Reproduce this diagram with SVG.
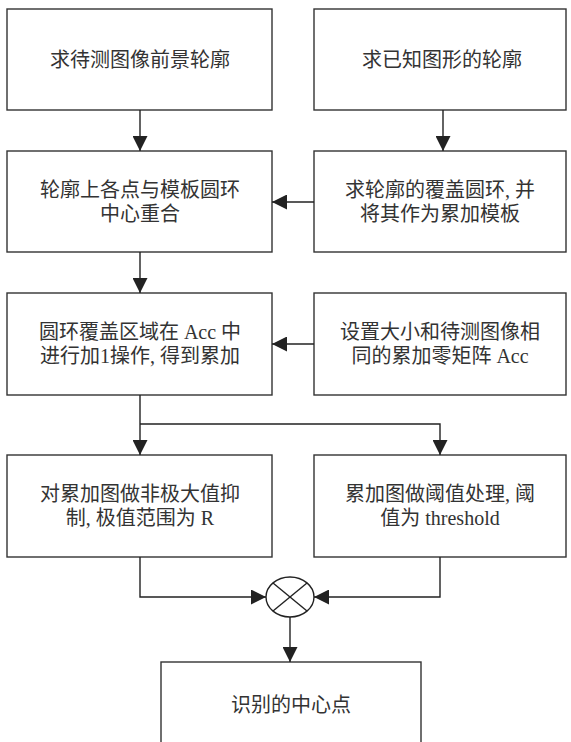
<svg xmlns="http://www.w3.org/2000/svg" width="571" height="742" viewBox="0 0 571 742">
<style>
  .box { fill: #ffffff; stroke: #333333; stroke-width: 1.4; }
  .t { font-family: "Liberation Serif", "Noto Sans CJK SC", serif; font-size: 20px; fill: #333333; text-anchor: middle; dominant-baseline: central; }
  .c { fill: none; stroke: #222222; stroke-width: 1.4; }
</style>
<defs>
  <marker id="ah" markerUnits="userSpaceOnUse" markerWidth="15" markerHeight="15" refX="15" refY="7.5" orient="auto">
    <path d="M0,0 L15,7.5 L0,15 z" fill="#222222"/>
  </marker>
</defs>
<rect width="571" height="742" fill="#ffffff"/>

<g id="n1">
  <rect class="box" x="7" y="9" width="265" height="101"/>
  <text class="t" x="140" y="60">求待测图像前景轮廓</text>
</g>
<g id="n2">
  <rect class="box" x="314" y="9" width="252" height="101"/>
  <text class="t" x="442" y="60">求已知图形的轮廓</text>
</g>
<g id="n3">
  <rect class="box" x="7" y="151" width="265" height="101"/>
  <text class="t" x="140" y="190">轮廓上各点与模板圆环</text>
  <text class="t" x="140" y="214">中心重合</text>
</g>
<g id="n4">
  <rect class="box" x="314" y="151" width="252" height="101"/>
  <text class="t" x="440" y="190">求轮廓的覆盖圆环, 并</text>
  <text class="t" x="440" y="214">将其作为累加模板</text>
</g>
<g id="n5">
  <rect class="box" x="7" y="293" width="265" height="102"/>
  <text class="t" x="140" y="332">圆环覆盖区域在 Acc 中</text>
  <text class="t" x="140" y="356">进行加1操作, 得到累加</text>
</g>
<g id="n6">
  <rect class="box" x="314" y="293" width="252" height="102"/>
  <text class="t" x="440" y="332">设置大小和待测图像相</text>
  <text class="t" x="440" y="356">同的累加零矩阵 Acc</text>
</g>
<g id="n7">
  <rect class="box" x="7" y="455" width="265" height="102"/>
  <text class="t" x="140" y="494">对累加图做非极大值抑</text>
  <text class="t" x="140" y="518">制, 极值范围为 R</text>
</g>
<g id="n8">
  <rect class="box" x="314" y="455" width="252" height="102"/>
  <text class="t" x="440" y="494">累加图做阈值处理, 阈</text>
  <text class="t" x="440" y="518">值为 threshold</text>
</g>
<g id="n9">
  <ellipse cx="290" cy="597" rx="24" ry="20" fill="#ffffff" stroke="#222222" stroke-width="1.4"/>
  <line x1="273" y1="583" x2="307" y2="611" stroke="#222222" stroke-width="1.4"/>
  <line x1="307" y1="583" x2="273" y2="611" stroke="#222222" stroke-width="1.4"/>
</g>
<g id="n10">
  <rect class="box" x="161" y="662" width="260" height="100"/>
  <text class="t" x="291" y="705">识别的中心点</text>
</g>

<g id="connectors">
  <path class="c" d="M140,110 L140,151" marker-end="url(#ah)"/>
  <path class="c" d="M443,110 L443,151" marker-end="url(#ah)"/>
  <path class="c" d="M314,202 L272,202" marker-end="url(#ah)"/>
  <path class="c" d="M140,252 L140,293" marker-end="url(#ah)"/>
  <path class="c" d="M314,344 L272,344" marker-end="url(#ah)"/>
  <path class="c" d="M140,395 L140,455" marker-end="url(#ah)"/>
  <path class="c" d="M140,424 L440,424 L440,455" marker-end="url(#ah)"/>
  <path class="c" d="M140,557 L140,597 L266,597" marker-end="url(#ah)"/>
  <path class="c" d="M440,557 L440,597 L314,597" marker-end="url(#ah)"/>
  <path class="c" d="M290,617 L290,662" marker-end="url(#ah)"/>
</g>
</svg>
